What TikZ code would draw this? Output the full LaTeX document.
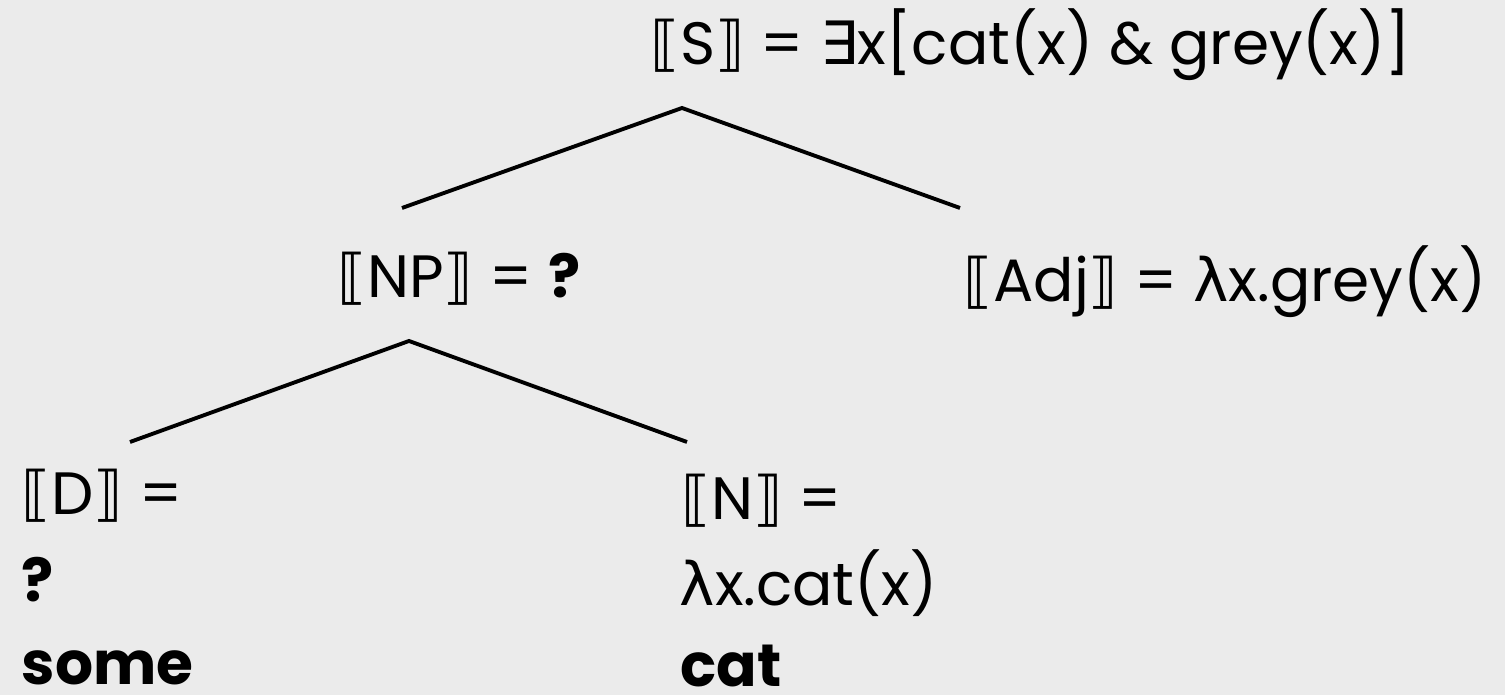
\documentclass[tikz,border=0pt]{standalone}
\usepackage{fontspec}
\setmainfont{Poppins}
\newfontfamily\symfont{DejaVu Sans}
\definecolor{bgcol}{HTML}{EBEBEB}
% semantic value brackets
\newcommand{\den}[1]{{\symfont ⟦}#1{\symfont ⟧}}
\newcommand{\lam}{{\symfont λ}}
\begin{document}
\begin{tikzpicture}[x=0.01cm, y=-0.01cm, font=\fontsize{17}{20}\selectfont,
    lbl/.style={anchor=base west, inner sep=0pt},
    branch/.style={line width=1.1pt}]
  % background fixes the page size
  \fill[bgcol] (0,0) rectangle (1505,695);
  \useasboundingbox (0,0) rectangle (1505,695);
  % root
  \node[lbl] (s) at (650,65) {\den{S} = {\symfont ∃}x[cat(x) \& grey(x)]};
  % second level
  \node[lbl] (np) at (337,298) {\den{NP} = \textbf{?}};
  \node[lbl] (adj) at (963,302) {\den{Adj} = \lam x.grey(x)};
  % leaves
  \node[lbl] (d-sem)  at (21,515) {\den{D} =};
  \node[lbl] (d-val)  at (21,602) {\textbf{?}};
  \node[lbl] (d-word) at (21,685) {\textbf{some}};
  \node[lbl] (n-sem)  at (681,520) {\den{N} =};
  \node[lbl] (n-val)  at (679,606) {\lam x.cat(x)};
  \node[lbl] (n-word) at (680,687) {\textbf{cat}};
  % branch end points
  \coordinate (s-fork)  at (682,108);
  \coordinate (np-top)  at (402,208);
  \coordinate (adj-top) at (960,208);
  \coordinate (np-fork) at (409,341);
  \coordinate (d-top)   at (130,442);
  \coordinate (n-top)   at (687,442);
  \draw[branch] (np-top) -- (s-fork) -- (adj-top);
  \draw[branch] (d-top) -- (np-fork) -- (n-top);
\end{tikzpicture}
\end{document}
